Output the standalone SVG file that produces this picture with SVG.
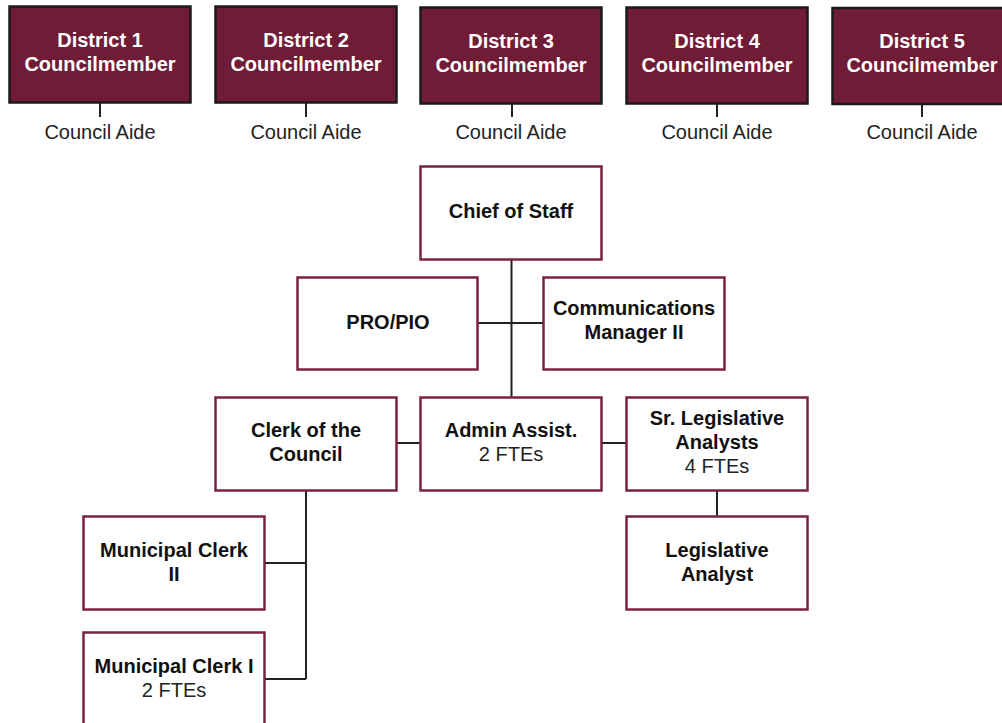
<svg xmlns="http://www.w3.org/2000/svg" width="1002" height="723" viewBox="0 0 1002 723">
<style>
.dist{fill:#701c37;stroke:#1a1a1a;stroke-width:2.5}
.box{fill:#fff;stroke:#7b2340;stroke-width:2.5}
.wt{font-family:"Liberation Sans",Arial,sans-serif;font-weight:bold;font-size:20px;fill:#fff;text-anchor:middle}
.bt{font-family:"Liberation Sans",Arial,sans-serif;font-weight:bold;font-size:20px;fill:#111;text-anchor:middle}
.rt{font-family:"Liberation Sans",Arial,sans-serif;font-size:20px;fill:#222;text-anchor:middle}
.ln{fill:none;stroke:#222;stroke-width:2}
</style>
<rect width="1002" height="723" fill="#fff"/>
<g id="connectors">
<path class="ln" d="M100 103V117M306 103V117M512 103V117M717 103V117M922 104V117"/>
<path class="ln" d="M511.5 260V397M478 323H543M397 443H420M602 443H626M717 490V517M306 491V679M265 563H306M265 679H306"/>
</g>
<g id="d1"><rect class="dist" x="9.5" y="6.5" width="181" height="96"/><text class="wt" x="100" y="47">District 1</text><text class="wt" x="100" y="71">Councilmember</text></g>
<g id="d2"><rect class="dist" x="215.5" y="6.5" width="181" height="96"/><text class="wt" x="306" y="47">District 2</text><text class="wt" x="306" y="71">Councilmember</text></g>
<g id="d3"><rect class="dist" x="420.5" y="7.5" width="181" height="96"/><text class="wt" x="511" y="48">District 3</text><text class="wt" x="511" y="72">Councilmember</text></g>
<g id="d4"><rect class="dist" x="626.5" y="7.5" width="181" height="96"/><text class="wt" x="717" y="48">District 4</text><text class="wt" x="717" y="72">Councilmember</text></g>
<g id="d5"><rect class="dist" x="832.5" y="8" width="181" height="96"/><text class="wt" x="922" y="48">District 5</text><text class="wt" x="922" y="72">Councilmember</text></g>
<g id="a1"><text class="rt" x="100" y="139">Council Aide</text></g>
<g id="a2"><text class="rt" x="306" y="139">Council Aide</text></g>
<g id="a3"><text class="rt" x="511" y="139">Council Aide</text></g>
<g id="a4"><text class="rt" x="717" y="139">Council Aide</text></g>
<g id="a5"><text class="rt" x="922" y="139">Council Aide</text></g>
<g id="chief"><rect class="box" x="420.5" y="166.5" width="181" height="93"/><text class="bt" x="511" y="218">Chief of Staff</text></g>
<g id="pro"><rect class="box" x="297.5" y="277.5" width="180" height="92"/><text class="bt" x="388" y="329">PRO/PIO</text></g>
<g id="comm"><rect class="box" x="543.5" y="277.5" width="181" height="92"/><text class="bt" x="634" y="315">Communications</text><text class="bt" x="634" y="339">Manager II</text></g>
<g id="clerk"><rect class="box" x="215.5" y="397.5" width="181" height="93"/><text class="bt" x="306" y="437">Clerk of the</text><text class="bt" x="306" y="461">Council</text></g>
<g id="admin"><rect class="box" x="420.5" y="397.5" width="181" height="93"/><text class="bt" x="511" y="437">Admin Assist.</text><text class="rt" x="511" y="461">2 FTEs</text></g>
<g id="srleg"><rect class="box" x="626.5" y="397.5" width="181" height="93"/><text class="bt" x="717" y="425">Sr. Legislative</text><text class="bt" x="717" y="449">Analysts</text><text class="rt" x="717" y="473">4 FTEs</text></g>
<g id="leg"><rect class="box" x="626.5" y="516.5" width="181" height="93"/><text class="bt" x="717" y="557">Legislative</text><text class="bt" x="717" y="581">Analyst</text></g>
<g id="mc2"><rect class="box" x="83.5" y="516.5" width="181" height="93"/><text class="bt" x="174" y="557">Municipal Clerk</text><text class="bt" x="174" y="581">II</text></g>
<g id="mc1"><rect class="box" x="83.5" y="632.5" width="181" height="100"/><text class="bt" x="174" y="673">Municipal Clerk I</text><text class="rt" x="174" y="697">2 FTEs</text></g>
</svg>
